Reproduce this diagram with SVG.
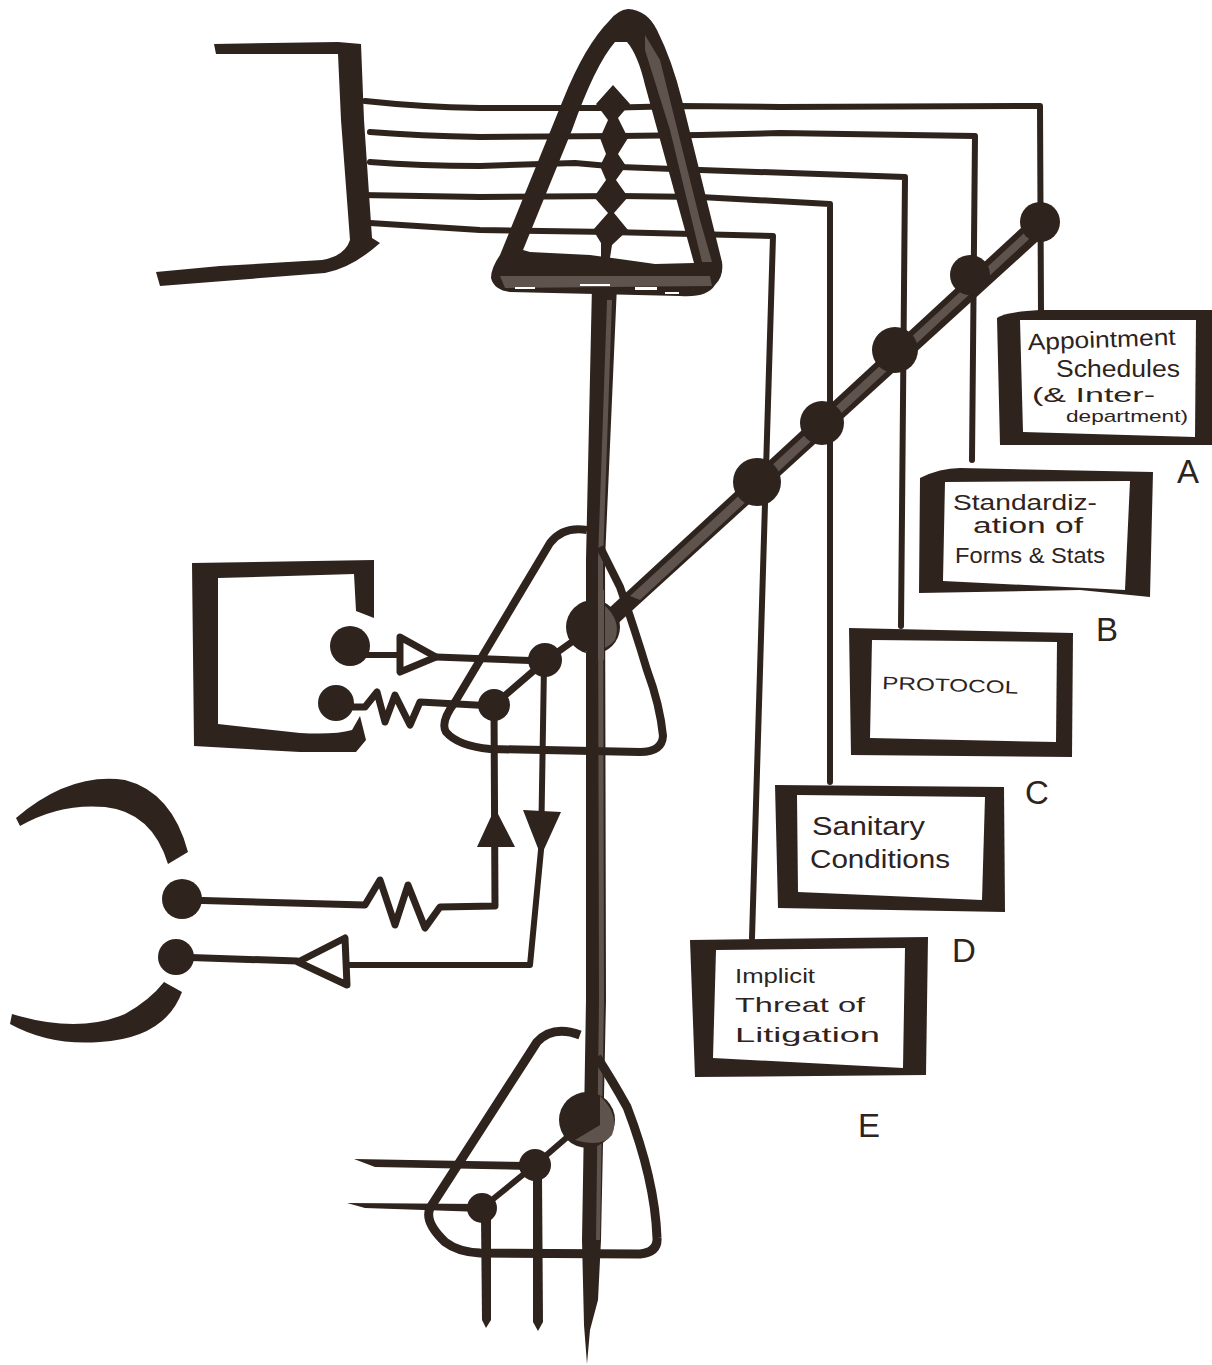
<svg xmlns="http://www.w3.org/2000/svg" width="1212" height="1365" viewBox="0 0 1212 1365">
<style>
.ink{fill:#2e231d;stroke:none}
.gray{fill:#5e534d;stroke:none}
.wire{fill:none;stroke:#2e231d;stroke-width:6;stroke-linecap:round;stroke-linejoin:round}
.heavy{stroke-width:7}
.loop{fill:none;stroke:#2e231d;stroke-width:8;stroke-linejoin:round}
.hollow{fill:#fff;stroke:#2e231d;stroke-width:7;stroke-linejoin:round}
.paper{fill:#fff;stroke:none}
.hand{font-family:"Liberation Sans",Arial,sans-serif;fill:#2e231d;font-size:23px}
.letter{font-family:"Liberation Sans",Arial,sans-serif;fill:#2e231d;font-size:33px}
</style>
<rect width="1212" height="1365" fill="#fff"/>
<g id="connectors">
<path class="wire" d="M365 101 Q420 107 480 108 L600 108 L680 106 L780 107 L1040 106 L1041 312"/>
<path class="wire" d="M370 132 Q420 136 480 137 L620 136 L700 135 L780 133 L975 136 L972 460"/>
<path class="wire" d="M370 162 Q420 166 480 166 L575 163 L620 167 L700 170 L905 177 L901 626"/>
<path class="wire" d="M360 195 L480 197 L620 196 L700 197 L830 204 L830 782"/>
<path class="wire" d="M370 223 L480 230 L610 232 L773 236 L752 938"/>
<path class="wire" d="M350 655 L402 655"/>
<path class="wire heavy" d="M436 657 L545 661"/>
<path class="wire heavy" d="M353 707 L365 707 L377 692 L385 722 L395 695 L410 725 L420 702 L494 706"/>
<path class="wire heavy" d="M593 627 L545 661 L494 705"/>
<path class="wire heavy" d="M494 705 L495 906 L440 907 L425 928 L408 885 L395 925 L380 880 L365 905 L185 900"/>
<path class="wire" d="M544 665 L541 850 L530 965 L345 965"/>
<path class="wire heavy" d="M297 961 L176 957"/>
<path class="ink" d="M594 622 L1034 216 L1048 232 L602 638 Z"/>
<path class="gray" d="M630 596 L1034 224 L1040 229 L640 600 Z"/>
<path class="wire" d="M587 1120 L535 1165 L482 1208"/>
<path class="ink" d="M354 1159 L530 1162 L530 1170 L375 1167 Z"/>
<path class="ink" d="M347 1203 L482 1204 L482 1212 L365 1208 Z"/>
<path class="ink" d="M481 1215 L491 1215 L491 1320 L486 1328 L482 1320 Z"/>
<path class="ink" d="M533 1175 L542 1175 L543 1322 L538 1331 L533 1322 Z"/>
<path class="ink" d="M592 285 L617 285 L605 560 L606 1000 L601 1240 L598 1300 L590 1330 L587 1364 L584 1325 L582 1240 L586 1000 L586 560 Z"/>
<path class="gray" d="M607 300 L612 300 L603 560 L604 1000 L600 1240 L596 1240 L599 1000 L598 560 Z"/>
</g>
<g id="amp-top">
<path class="ink" fill-rule="evenodd" d="M628 9 Q647 10 657 30 Q672 60 682 100 L722 262 Q724 276 715 285 Q707 298 680 296 L510 292 Q494 290 491 278 Q491 268 500 255 L563 100 Q585 45 610 20 Q618 10 628 9 Z M615 42 L627 42 Q638 55 645 85 L694 263 L655 264 Q620 259 590 255 L530 252 L523 250 L572 130 Q595 65 615 42 Z"/>
<path class="gray" d="M645 35 L660 60 L700 220 L712 262 L702 262 L670 130 L645 50 Z"/>
<path class="gray" d="M500 276 L710 276 L712 286 L505 288 Z"/>
<path class="paper" d="M515 287 h20 v2 h-20Z M580 284 h30 v2 h-30Z M635 287 h22 v3 h-22Z M665 292 h14 v2 h-14Z"/>
<path class="ink" d="M613 85 L630 104 L618 118 L628 138 L618 154 L626 166 L616 180 L628 197 L614 213 L628 230 L612 245 L610 258 L601 258 L601 243 L593 230 L608 213 L594 197 L606 180 L600 166 L606 154 L600 138 L608 120 L596 104 Z"/>
</g>
<g id="bracket-top">
<path class="ink" d="M214 44 L338 42 L361 44 L364 120 L372 238 L380 243 Q352 268 325 273 L160 286 L156 272 L220 266 L322 260 Q345 256 350 240 L341 120 L338 54 L216 54 Z"/>
</g>
<g id="square-left">
<path class="ink" d="M192 563 L374 560 L374 618 L356 611 L354 574 L218 578 L218 724 L300 733 Q335 735 352 730 L360 716 L366 740 L356 752 L300 752 L194 746 Z"/>
</g>
<g id="arcs-left">
<path class="ink" d="M16 818 Q70 772 125 780 Q172 792 188 852 L168 864 Q152 812 105 807 Q60 803 20 826 Z"/>
<path class="ink" d="M12 1014 Q78 1034 125 1014 Q150 1000 164 982 L182 992 Q165 1038 100 1042 Q50 1046 10 1024 Z"/>
</g>
<g id="amp-left">
<path class="loop" d="M587 530 Q563 526 550 543 L455 702 Q440 722 446 732 Q458 746 490 749 L640 752 Q662 752 663 736 Q660 705 647 670 Q635 630 620 587 L600 547"/>
<circle class="ink" cx="593" cy="627" r="27"/>
<path class="gray" d="M603 604 Q622 620 615 640 Q605 652 585 652 L603 640 Z"/>
<circle class="ink" cx="545" cy="660" r="17"/>
<circle class="ink" cx="494" cy="705" r="16"/>
<rect x="587" y="590" width="18" height="70" class="ink"/>
<rect x="598" y="590" width="6" height="70" class="gray"/>
</g>
<g id="amp-bottom">
<path class="loop" style="stroke-width:9" d="M580 1035 Q553 1025 537 1042 L430 1208 Q424 1222 445 1242 Q458 1252 480 1253 L640 1254 Q658 1252 657 1238 Q655 1180 627 1107 Q612 1080 597 1057"/>
<circle class="ink" cx="587" cy="1120" r="28"/>
<path class="gray" d="M600 1096 Q620 1115 612 1135 Q602 1148 575 1140 L600 1125 Z"/>
<circle class="ink" cx="535" cy="1165" r="16"/>
<circle class="ink" cx="482" cy="1208" r="15"/>
</g>
<g id="nodes-diagonal">
<circle class="ink" cx="1040" cy="222" r="20"/>
<circle class="ink" cx="970" cy="275" r="20"/>
<circle class="ink" cx="895" cy="350" r="23"/>
<circle class="ink" cx="822" cy="423" r="22"/>
<circle class="ink" cx="757" cy="482" r="24"/>
</g>
<g id="terminals">
<circle class="ink" cx="350" cy="646" r="20"/>
<circle class="ink" cx="336" cy="703" r="18"/>
<path class="hollow" d="M400 637 L436 657 L400 672 Z"/>
<circle class="ink" cx="182" cy="899" r="20"/>
<circle class="ink" cx="176" cy="957" r="18"/>
<path class="hollow" d="M345 938 L347 985 L298 962 Z"/>
<path class="ink" d="M495 808 L515 847 L477 847 Z"/>
<path class="ink" d="M523 810 L561 812 L541 856 Z"/>
</g>
<g id="box-a">
<path class="ink" d="M997 318 Q1005 312 1040 310 L1212 310 L1212 445 L1000 445 Z"/>
<path class="paper" d="M1020 320 L1196 320 L1195 437 L1023 432 Z"/>
<text class="hand" x="1028" y="350" textLength="148" lengthAdjust="spacingAndGlyphs" transform="rotate(-2 1028 350)">Appointment</text>
<text class="hand" x="1056" y="377" textLength="124" lengthAdjust="spacingAndGlyphs">Schedules</text>
<text class="hand" style="font-size:21px" x="1032" y="402" textLength="123" lengthAdjust="spacingAndGlyphs">(&amp; Inter-</text>
<text class="hand" style="font-size:17px" x="1066" y="422" textLength="122" lengthAdjust="spacingAndGlyphs">department)</text>
</g>
<g id="box-b">
<path class="ink" d="M920 478 Q940 468 960 468 L1153 472 L1150 597 L1080 590 L919 593 Z"/>
<path class="paper" d="M945 482 L1130 481 L1125 590 L943 581 Z"/>
<text class="hand" style="font-size:22px" x="953" y="510" textLength="144" lengthAdjust="spacingAndGlyphs">Standardiz-</text>
<text class="hand" style="font-size:22px" x="973" y="533" textLength="110" lengthAdjust="spacingAndGlyphs">ation of</text>
<text class="hand" style="font-size:22px" x="955" y="563" textLength="150" lengthAdjust="spacingAndGlyphs">Forms &amp; Stats</text>
</g>
<g id="box-c">
<path class="ink" d="M849 628 L1073 633 L1072 757 L851 755 Z"/>
<path class="paper" d="M872 640 L1057 642 L1056 742 L870 738 Z"/>
<text class="hand" style="font-size:18px" x="882" y="689" textLength="136" lengthAdjust="spacingAndGlyphs" transform="rotate(2 882 689)">PROTOCOL</text>
</g>
<g id="box-d">
<path class="ink" d="M775 785 L1004 787 L1005 912 L778 908 Z"/>
<path class="paper" d="M797 795 L985 797 L982 900 L798 892 Z"/>
<text class="hand" style="font-size:25px" x="812" y="835" textLength="113" lengthAdjust="spacingAndGlyphs">Sanitary</text>
<text class="hand" style="font-size:25px" x="810" y="868" textLength="140" lengthAdjust="spacingAndGlyphs">Conditions</text>
</g>
<g id="box-e">
<path class="ink" d="M690 940 L928 937 L926 1075 L695 1077 Z"/>
<path class="paper" d="M716 950 L905 948 L903 1068 L713 1058 Z"/>
<text class="hand" style="font-size:21px" x="735" y="983" textLength="80" lengthAdjust="spacingAndGlyphs">Implicit</text>
<text class="hand" style="font-size:21px" x="735" y="1012" textLength="130" lengthAdjust="spacingAndGlyphs">Threat of</text>
<text class="hand" style="font-size:21px" x="735" y="1042" textLength="145" lengthAdjust="spacingAndGlyphs">Litigation</text>
</g>
<g id="labels">
<text class="letter" x="1177" y="483">A</text>
<text class="letter" x="1096" y="641">B</text>
<text class="letter" x="1025" y="804">C</text>
<text class="letter" x="952" y="962">D</text>
<text class="letter" x="858" y="1137">E</text>
</g>
</svg>
